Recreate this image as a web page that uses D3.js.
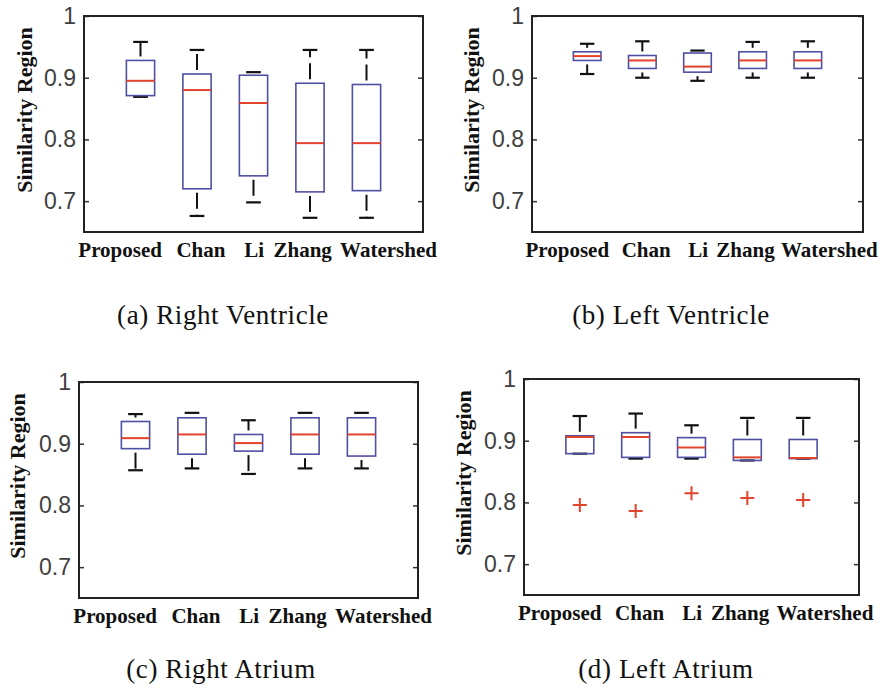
<!DOCTYPE html>
<html>
<head>
<meta charset="utf-8">
<script src="https://cdn.jsdelivr.net/npm/d3@7"></script>
<style>
  body { margin: 0; background: #fff; }
</style>
</head>
<body>
<div class="chart"></div>
<script>
// categories and tick values
var methods = ["Proposed", "Chan", "Li", "Zhang", "Watershed"];
var yTicks = [0.7, 0.8, 0.9, 1];

// five-number summaries per method: [lower whisker, q1, median, q3, upper whisker]
var rightVentricle = [
  [0.869, 0.871, 0.895, 0.928, 0.958],
  [0.676, 0.720, 0.880, 0.906, 0.945],
  [0.698, 0.741, 0.859, 0.904, 0.909],
  [0.673, 0.715, 0.794, 0.891, 0.945],
  [0.673, 0.717, 0.794, 0.889, 0.945]
];
var leftVentricle = [
  [0.906, 0.928, 0.935, 0.942, 0.955],
  [0.900, 0.915, 0.928, 0.936, 0.959],
  [0.895, 0.909, 0.918, 0.940, 0.944],
  [0.900, 0.915, 0.928, 0.942, 0.958],
  [0.900, 0.915, 0.928, 0.942, 0.959]
];
var rightAtrium = [
  [0.857, 0.892, 0.909, 0.936, 0.948],
  [0.860, 0.883, 0.915, 0.942, 0.950],
  [0.851, 0.888, 0.901, 0.915, 0.938],
  [0.860, 0.883, 0.915, 0.942, 0.950],
  [0.860, 0.880, 0.915, 0.942, 0.950]
];
var leftAtrium = [
  [0.879, 0.879, 0.906, 0.908, 0.940],
  [0.871, 0.873, 0.906, 0.913, 0.944],
  [0.871, 0.873, 0.889, 0.905, 0.925],
  [0.868, 0.868, 0.873, 0.902, 0.937],
  [0.871, 0.871, 0.872, 0.902, 0.937]
];
var leftAtriumOutliers = [0.796, 0.786, 0.815, 0.807, 0.804];

var captions = ["(a) Right Ventricle", "(b) Left Ventricle", "(c) Right Atrium", "(d) Left Atrium"];

// where the method names sit along the x axis (axis units, boxes at 1..5)
var labelPos = [0.64, 2.07, 3.01, 3.87, 5.39];

var svgWidth = 885;
var svgHeight = 690;

var boxColor = "#4f4fa3";
var medianColor = "#e2432c";

var svg = d3.select(".chart")
  .append("svg")
  .attr("width", svgWidth)
  .attr("height", svgHeight)
  .style("display", "block");

svg.append("rect")
  .attr("width", svgWidth)
  .attr("height", svgHeight)
  .attr("fill", "#fff");

var panels = [
  { stats: rightVentricle, outliers: null, left: 84, right: 423, top: 16, bottom: 232, labelX: 25, capX: 223, capY: 324 },
  { stats: leftVentricle, outliers: null, left: 532, right: 863, top: 16, bottom: 232, labelX: 472, capX: 671, capY: 324 },
  { stats: rightAtrium, outliers: null, left: 79, right: 418, top: 382, bottom: 598, labelX: 18, capX: 221, capY: 678 },
  { stats: leftAtrium, outliers: leftAtriumOutliers, left: 524, right: 859, top: 379, bottom: 595, labelX: 464, capX: 666, capY: 678 }
];

panels.forEach(function(p, pi) {

  var x = d3.scaleLinear().domain([0, 6]).range([p.left, p.right]);
  var y = d3.scaleLinear().domain([0.65, 1]).range([p.bottom, p.top]);

  var g = svg.append("g");

  // y axis labels with ticks pointing in
  var leftAxis = d3.axisLeft(y)
    .tickValues(yTicks)
    .tickSize(-5)
    .tickPadding(8)
    .tickFormat(d => d === 1 ? "1" : d3.format(".1f")(d));

  var yAxis = g.append("g")
    .attr("transform", `translate(${p.left}, 0)`)
    .call(leftAxis);
  yAxis.select(".domain").remove();
  yAxis.selectAll("line").attr("stroke", "#333").attr("stroke-width", 1.5);
  yAxis.selectAll("text")
    .style("font", "23px 'Liberation Sans', Arial, sans-serif")
    .attr("fill", "#404040");

  var rightAxis = d3.axisRight(y)
    .tickValues(yTicks)
    .tickSize(-5)
    .tickFormat("");
  var yAxisR = g.append("g")
    .attr("transform", `translate(${p.right}, 0)`)
    .call(rightAxis);
  yAxisR.select(".domain").remove();
  yAxisR.selectAll("line").attr("stroke", "#333").attr("stroke-width", 1.5);

  // frame
  g.append("rect")
    .attr("x", p.left)
    .attr("y", p.top)
    .attr("width", p.right - p.left)
    .attr("height", p.bottom - p.top)
    .attr("fill", "none")
    .attr("stroke", "#222")
    .attr("stroke-width", 2);

  var boxes = g.selectAll(".bx")
    .data(p.stats)
    .enter()
    .append("g")
    .attr("class", "bx");

  // dashed whiskers, drawn from the box outwards
  boxes.append("line")
    .attr("x1", (d, i) => x(i + 1))
    .attr("x2", (d, i) => x(i + 1))
    .attr("y1", d => y(d[3]))
    .attr("y2", d => y(d[4]))
    .attr("stroke", "#111")
    .attr("stroke-width", 2)
    .attr("stroke-dasharray", "16,6")
    .attr("stroke-dashoffset", 18);

  boxes.append("line")
    .attr("x1", (d, i) => x(i + 1))
    .attr("x2", (d, i) => x(i + 1))
    .attr("y1", d => y(d[1]))
    .attr("y2", d => y(d[0]))
    .attr("stroke", "#111")
    .attr("stroke-width", 2)
    .attr("stroke-dasharray", "16,6")
    .attr("stroke-dashoffset", 18);

  // whisker caps
  [0, 4].forEach(function(k) {
    boxes.append("line")
      .attr("x1", (d, i) => x(i + 1 - 0.13))
      .attr("x2", (d, i) => x(i + 1 + 0.13))
      .attr("y1", d => y(d[k]))
      .attr("y2", d => y(d[k]))
      .attr("stroke", "#111")
      .attr("stroke-width", 2.2);
  });

  boxes.append("rect")
    .attr("x", (d, i) => x(i + 0.75))
    .attr("width", (d, i) => x(i + 1.25) - x(i + 0.75))
    .attr("y", d => y(d[3]))
    .attr("height", d => y(d[1]) - y(d[3]))
    .attr("fill", "none")
    .attr("stroke", boxColor)
    .attr("stroke-width", 1.6);

  boxes.append("line")
    .attr("x1", (d, i) => x(i + 0.75))
    .attr("x2", (d, i) => x(i + 1.25))
    .attr("y1", d => y(d[2]))
    .attr("y2", d => y(d[2]))
    .attr("stroke", medianColor)
    .attr("stroke-width", 2);

  if (p.outliers) {
    g.selectAll(".outlier")
      .data(p.outliers)
      .enter()
      .append("path")
      .attr("class", "outlier")
      .attr("d", (d, i) => {
        var cx = x(i + 1), cy = y(d);
        return `M${cx - 7},${cy}H${cx + 7}M${cx},${cy - 7}V${cy + 7}`;
      })
      .attr("stroke", medianColor)
      .attr("stroke-width", 2)
      .attr("fill", "none");
  }

  // method names under the frame
  g.selectAll(".xlab")
    .data(methods)
    .enter()
    .append("text")
    .attr("class", "xlab")
    .attr("x", (d, i) => x(labelPos[i]))
    .attr("y", p.bottom + 25)
    .attr("text-anchor", "middle")
    .style("font", "bold 21px 'Liberation Serif', 'Times New Roman', serif")
    .attr("fill", "#111")
    .text(d => d);

  var midY = (p.top + p.bottom) / 2 - 14;
  g.append("text")
    .attr("transform", `translate(${p.labelX + 7}, ${midY}) rotate(-90)`)
    .attr("text-anchor", "middle")
    .style("font", "bold 22px 'Liberation Serif', 'Times New Roman', serif")
    .attr("fill", "#111")
    .text("Similarity Region");

  svg.append("text")
    .attr("x", p.capX)
    .attr("y", p.capY)
    .attr("text-anchor", "middle")
    .style("font", "27px 'Liberation Serif', 'Times New Roman', serif")
    .style("letter-spacing", "0.6px")
    .attr("fill", "#111")
    .text(captions[pi]);
});
</script>
</body>
</html>
